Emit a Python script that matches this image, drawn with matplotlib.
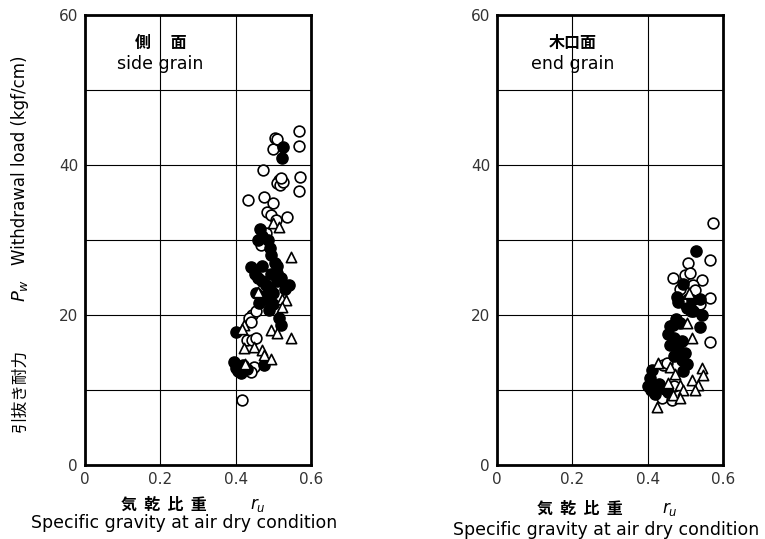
import matplotlib
matplotlib.use("Agg")
import matplotlib.pyplot as plt

# side grain (left panel)
side_open_x = [0.569, 0.505, 0.498, 0.569, 0.510, 0.473, 0.515, 0.509, 0.517, 0.525, 0.520, 0.571,
               0.567, 0.433, 0.476, 0.498, 0.484, 0.493, 0.535, 0.507, 0.467, 0.480, 0.444, 0.435,
               0.440, 0.431, 0.444, 0.453, 0.449, 0.440, 0.418, 0.455]
side_open_y = [44.6, 43.6, 42.2, 42.5, 43.5, 39.4, 38.0, 37.6, 37.3, 37.7, 38.3, 38.4,
               36.5, 35.3, 35.8, 34.9, 33.8, 33.3, 33.1, 32.7, 29.3, 31.0, 20.0, 19.6,
               19.1, 16.7, 16.7, 16.9, 13.1, 12.4, 8.7, 20.5]
side_fill_x = [0.526, 0.523, 0.465, 0.470, 0.460, 0.485, 0.490, 0.495, 0.505, 0.510, 0.440, 0.450,
               0.460, 0.470, 0.480, 0.490, 0.500, 0.510, 0.520, 0.530, 0.542, 0.475, 0.485, 0.462,
               0.500, 0.489, 0.515, 0.520, 0.400, 0.395, 0.400, 0.405, 0.415, 0.420, 0.430, 0.475,
               0.510, 0.495, 0.470, 0.455]
side_fill_y = [42.4, 40.9, 31.5, 30.5, 30.0, 30.0, 29.0, 28.0, 27.0, 25.6, 26.4, 25.5,
               25.0, 24.5, 24.0, 23.5, 23.0, 24.5, 25.0, 23.5, 24.0, 22.5, 22.0, 21.6,
               21.5, 20.7, 19.6, 18.7, 17.8, 13.7, 13.0, 12.5, 12.3, 13.3, 12.8, 13.3,
               26.5, 25.5, 26.5, 23.0]
side_tri_x = [0.498, 0.515, 0.547, 0.458, 0.524, 0.533, 0.524, 0.422, 0.418, 0.493, 0.511, 0.547,
              0.422, 0.449, 0.471, 0.475, 0.493, 0.425]
side_tri_y = [32.2, 31.8, 27.7, 23.1, 22.2, 22.0, 21.1, 18.7, 18.2, 18.0, 17.6, 16.9,
              15.6, 15.8, 15.3, 14.7, 14.2, 13.5]

# end grain (right panel)
end_open_x = [0.574, 0.565, 0.508, 0.468, 0.499, 0.512, 0.543, 0.521, 0.526, 0.565, 0.508, 0.530,
              0.515, 0.565, 0.442, 0.450, 0.437, 0.464, 0.470, 0.500, 0.485, 0.540]
end_open_y = [32.3, 27.3, 26.9, 24.9, 25.3, 25.6, 24.7, 24.0, 23.3, 22.3, 22.1, 21.0,
              20.5, 16.4, 13.3, 13.6, 8.9, 8.7, 10.5, 21.5, 23.5, 21.5]
end_fill_x = [0.527, 0.495, 0.477, 0.481, 0.517, 0.539, 0.543, 0.468, 0.486, 0.539, 0.455, 0.470,
              0.490, 0.460, 0.480, 0.500, 0.470, 0.490, 0.505, 0.495, 0.411, 0.406, 0.400, 0.410,
              0.420, 0.430, 0.445, 0.455, 0.520, 0.505, 0.475, 0.460]
end_fill_y = [28.6, 24.2, 22.4, 21.8, 22.0, 22.2, 20.0, 18.7, 18.9, 18.4, 17.5, 17.0,
              16.5, 16.0, 15.5, 15.0, 14.5, 14.0, 13.5, 12.5, 12.7, 11.6, 10.5, 10.0,
              9.5, 10.8, 10.2, 9.8, 20.5, 21.0, 19.5, 18.5]
end_tri_x = [0.504, 0.517, 0.543, 0.548, 0.428, 0.459, 0.473, 0.517, 0.534, 0.526, 0.486, 0.495,
             0.468, 0.486, 0.424, 0.455, 0.510]
end_tri_y = [18.9, 16.9, 12.9, 12.0, 13.6, 13.1, 12.2, 11.3, 10.7, 10.0, 10.7, 10.0,
             9.3, 8.9, 7.7, 11.0, 23.0]

xticks = [0, 0.2, 0.4, 0.6]
xticklabels = ["0", "0.2", "0.4", "0.6"]
yticks = [0, 20, 40, 60]

JP = ["Noto Sans CJK JP", "DejaVu Sans"]
W, H = 765, 539

fig = plt.figure(figsize=(W / 100, H / 100), dpi=100)


def panel(left_px, ox, oy, fx, fy, tx, ty, title_jp, title_en):
    ax = fig.add_axes([left_px / W, (H - 465) / H, 226 / W, 450 / H])
    ax.set_xlim(0, 0.6)
    ax.set_ylim(0, 60)
    ax.set_xticks(xticks)
    ax.set_xticklabels(xticklabels)
    ax.set_xticks([0.1, 0.3, 0.5], minor=True)
    ax.set_yticks(yticks)
    ax.set_yticks([10, 30, 50], minor=True)
    ax.grid(True, which="major", axis="both", color="black", lw=0.8)
    ax.grid(True, which="minor", axis="y", color="black", lw=0.8)
    ax.tick_params(which="both", length=0, labelsize=11, labelcolor="#333333", pad=5)
    ax.tick_params(axis="x", which="minor", labelbottom=False)
    for s in ax.spines.values():
        s.set_linewidth(2)
    ax.set_axisbelow(True)
    ax.scatter(ox, oy, s=60, facecolors="white", edgecolors="black", linewidths=1.2, zorder=3)
    ax.scatter(fx, fy, s=65, color="black", zorder=4)
    ax.scatter(tx, ty, s=55, marker="^", facecolors="white", edgecolors="black",
               linewidths=1.2, zorder=5)
    ax.text(0.2, 56.3, title_jp, ha="center", va="center", fontsize=11.5,
            family=JP, fontweight="bold")
    ax.text(0.2, 53.5, title_en, ha="center", va="center", fontsize=12.5)
    return ax


panel(85, side_open_x, side_open_y, side_fill_x, side_fill_y, side_tri_x, side_tri_y,
      "側\u3000 面", "side grain")
panel(497, end_open_x, end_open_y, end_fill_x, end_fill_y, end_tri_x, end_tri_y,
      "木口面", "end grain")

# y axis label (left panel only)
fig.text(20 / W, 1 - 390 / H, "引抜き耐力", rotation=90, ha="center", va="center",
         fontsize=12, family=JP)
fig.text(20 / W, 1 - 290 / H, "$P_w$", rotation=90, ha="center", va="center", fontsize=13)
fig.text(20 / W, 1 - 160 / H, "Withdrawal load (kgf/cm)", rotation=90, ha="center",
         va="center", fontsize=12)

# x axis labels
for cx, rx, y1, cx2, y2 in [(164, 258, 505, 184, 523), (580, 670, 509, 606, 530)]:
    fig.text(cx / W, 1 - y1 / H, "気  乾  比  重", ha="center", va="center", fontsize=11.5,
             family=JP, fontweight="bold")
    fig.text(rx / W, 1 - y1 / H, "$r_u$", ha="center", va="center", fontsize=12)
    fig.text(cx2 / W, 1 - y2 / H, "Specific gravity at air dry condition",
             ha="center", va="center", fontsize=12.5)

fig.savefig("out.png", dpi=100)
